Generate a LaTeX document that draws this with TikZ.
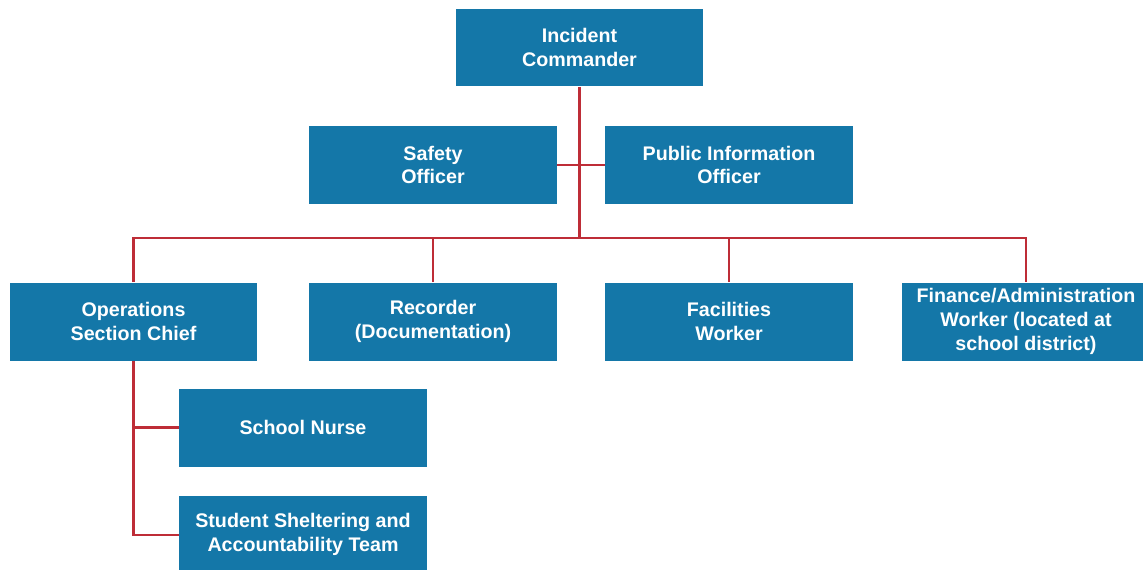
\documentclass[tikz,border=0pt]{standalone}
\usepackage{fontspec}
\setmainfont{Liberation Sans}
\definecolor{boxblue}{RGB}{20,119,168}
\definecolor{linkred}{RGB}{190,45,55}
\tikzset{
  role/.style={fill=boxblue, text=white, align=center, inner sep=0pt,
    minimum width=4.96cm, minimum height=1.56cm,
    font=\fontsize{11.2}{13.6}\selectfont\bfseries},
  link/.style={draw=linkred, line width=1.15pt}
}
\begin{document}
\begin{tikzpicture}[x=0.02cm,y=-0.02cm]
\useasboundingbox (0,0) rectangle (1143,569);

\node[role] (ic) at (579.5,47.5) {Incident\\Commander};

\node[role] (safety) at (433,165) {Safety\\Officer};
\node[role] (pio) at (729,165) {Public Information\\Officer};

\node[role] (ops) at (133.5,321.5) {Operations\\Section Chief};
\node[role] (rec) at (433,321.5) {Recorder\\(Documentation)};
\node[role] (fac) at (729,321.5) {Facilities\\Worker};
\node[role] (fin) at (1026,321.5) {Finance/Administration\\Worker (located at\\school district)};

\node[role] (nurse) at (303,427.5) {School Nurse};
\node[role] (shelter) at (303,534.5) {Student Sheltering and\\Accountability Team};

\coordinate (bus) at (579.5,238);

\draw[link] (ic.south) -- (bus);
\draw[link] (safety.east) -- (pio.west);
\draw[link] (ops.north) -- (ops.north |- bus) -| (fin.north);
\draw[link] (rec.north) -- (rec.north |- bus);
\draw[link] (fac.north) -- (fac.north |- bus);

\draw[link] (ops.south) |- (nurse.west);
\draw[link] (ops.south) |- (shelter.west);
\end{tikzpicture}
\end{document}
